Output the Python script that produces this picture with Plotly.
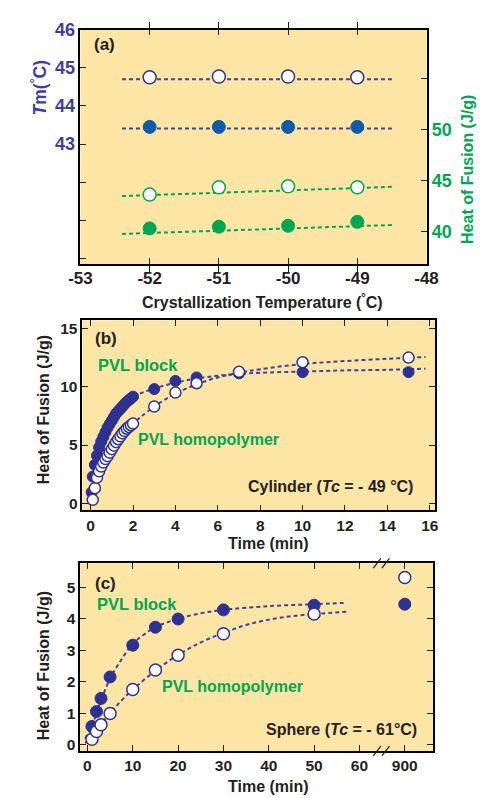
import plotly.graph_objects as go

W, H = 487, 798

# ---------------- Panel (a) data ----------------
a_tc = [-52, -51, -50, -49]
a_tm_homo = [44.75, 44.77, 44.77, 44.75]      # open blue (Tm)
a_tm_block = [43.45, 43.45, 43.45, 43.45]     # filled blue (Tm)
a_hf_homo = [43.64, 44.35, 44.45, 44.35]      # open green (heat of fusion)
a_hf_block = [40.32, 40.49, 40.58, 40.97]     # filled green (heat of fusion)
a_fit_x = [-52.4, -48.5]
a_fit_tm_homo = [44.70, 44.70]
a_fit_tm_block = [43.41, 43.41]
a_fit_hf_homo = [43.5, 44.4]
a_fit_hf_block = [39.78, 40.65]
a_x_ticks = [-53, -52, -51, -50, -49, -48]
a_x_text = ["-53", "-52", "-51", "-50", "-49", "-48"]
a_left_ticks = [43, 44, 45, 46]
a_left_minor = [40, 41, 42]
a_right_ticks = [40, 45, 50]
a_right_minor = [55]

# ---------------- Panel (b) data ----------------
b_t_block = [0.05, 0.1, 0.2, 0.3, 0.4, 0.5, 0.6, 0.7, 0.8, 0.9, 1.0, 1.1, 1.2, 1.3,
             1.4, 1.5, 1.6, 1.7, 1.8, 1.9, 2.0, 3, 4, 5, 7, 10, 15]
b_h_block = [0.95, 2.3, 3.3, 4.1, 4.8, 5.3, 5.7, 6.1, 6.5, 6.8, 7.1, 7.4, 7.7, 7.9,
             8.1, 8.3, 8.5, 8.7, 8.85, 9.0, 9.15, 9.8, 10.5, 10.8, 11.15, 11.25, 11.25]
b_t_homo = [0.1, 0.2, 0.3, 0.4, 0.5, 0.6, 0.7, 0.8, 0.9, 1.0, 1.1, 1.2, 1.3, 1.4,
            1.5, 1.6, 1.7, 1.8, 1.9, 2.0, 3, 4, 5, 7, 10, 15]
b_h_homo = [0.3, 1.3, 2.2, 2.75, 3.15, 3.5, 3.8, 4.05, 4.35, 4.65, 4.95, 5.25, 5.5, 5.75,
            6.0, 6.2, 6.4, 6.55, 6.7, 6.84, 8.3, 9.5, 10.3, 11.28, 12.1, 12.5]
b_fit_t_block = [2.0, 3, 4, 5, 6, 7, 8, 10, 12, 14, 15.8]
b_fit_h_block = [9.2, 9.85, 10.35, 10.7, 10.95, 11.1, 11.2, 11.3, 11.4, 11.45, 11.55]
b_fit_t_homo = [1.9, 3, 4, 5, 6, 7, 8, 10, 12, 14, 15.8]
b_fit_h_homo = [6.7, 8.3, 9.4, 10.2, 10.8, 11.2, 11.5, 11.95, 12.2, 12.4, 12.55]
b_x_ticks = [0, 2, 4, 6, 8, 10, 12, 14, 16]
b_y_ticks = [0, 5, 10, 15]

# ---------------- Panel (c) data ----------------
c_t = [1, 2, 3, 5, 10, 15, 20, 30, 50, 900]
c_h_block = [0.58, 1.05, 1.47, 2.15, 3.16, 3.73, 3.99, 4.28, 4.43, 4.46]
c_h_homo = [0.17, 0.42, 0.63, 0.99, 1.75, 2.37, 2.84, 3.52, 4.15, 5.31]
c_fit_t_block = [-0.5, 1, 2, 3, 5, 7.5, 10, 12.5, 15, 20, 25, 30, 40, 50, 56.5]
c_fit_h_block = [0.2, 0.6, 1.0, 1.4, 2.1, 2.7, 3.2, 3.5, 3.73, 4.0, 4.17, 4.28, 4.4, 4.46, 4.5]
c_fit_t_homo = [-0.5, 1, 2, 3, 5, 7.5, 10, 15, 20, 25, 30, 35, 40, 45, 50, 57.5]
c_fit_h_homo = [0.05, 0.22, 0.45, 0.65, 1.0, 1.4, 1.75, 2.35, 2.85, 3.25, 3.55, 3.8, 3.97, 4.08, 4.15, 4.22]
c_x_ticks = [0, 10, 20, 30, 40, 50, 60, 900]
c_y_ticks = [0, 1, 2, 3, 4, 5]
BREAK_POS = 70  # axis position where the 900 min value is drawn (broken axis)


def cx(t):
    return BREAK_POS if t == 900 else t


# ---------------- styles ----------------
BG = "#FDE5A6"
NAVY = "#2E3192"
BLUE_A = "#0E5BAA"
DASH_BLUE = "#3A43A6"
TM_BLUE = "#3A3F9E"
GREEN = "#00A651"
DARK = "#231F20"
FONT = "Liberation Sans"
DASH = "4px,3px"


def px(x):
    return x / W


def py(y):
    return 1 - y / H


fig = go.Figure()

# Panel (a)
for fx, fy, col, ax in [
    (a_fit_x, a_fit_tm_homo, DASH_BLUE, "y"),
    (a_fit_x, a_fit_tm_block, DASH_BLUE, "y"),
    (a_fit_x, a_fit_hf_homo, GREEN, "y2"),
    (a_fit_x, a_fit_hf_block, GREEN, "y2"),
]:
    fig.add_trace(go.Scatter(x=fx, y=fy, mode="lines", xaxis="x", yaxis=ax,
                             line=dict(color=col, width=2, dash=DASH), showlegend=False))

fig.add_trace(go.Scatter(x=a_tc, y=a_tm_homo, mode="markers", xaxis="x", yaxis="y",
                         marker=dict(size=13, color="white", line=dict(color=NAVY, width=1.5)),
                         showlegend=False))
fig.add_trace(go.Scatter(x=a_tc, y=a_tm_block, mode="markers", xaxis="x", yaxis="y",
                         marker=dict(size=13, color=BLUE_A, line=dict(color=BLUE_A, width=1)),
                         showlegend=False))
fig.add_trace(go.Scatter(x=a_tc, y=a_hf_homo, mode="markers", xaxis="x", yaxis="y2",
                         marker=dict(size=13, color="white", line=dict(color=GREEN, width=1.5)),
                         showlegend=False))
fig.add_trace(go.Scatter(x=a_tc, y=a_hf_block, mode="markers", xaxis="x", yaxis="y2",
                         marker=dict(size=13, color=GREEN, line=dict(color=GREEN, width=1)),
                         showlegend=False))

# Panel (b)
fig.add_trace(go.Scatter(x=b_fit_t_block, y=b_fit_h_block, mode="lines", xaxis="x2", yaxis="y3",
                         line=dict(color=DASH_BLUE, width=2, dash=DASH, shape="spline"), showlegend=False))
fig.add_trace(go.Scatter(x=b_fit_t_homo, y=b_fit_h_homo, mode="lines", xaxis="x2", yaxis="y3",
                         line=dict(color=DASH_BLUE, width=2, dash=DASH, shape="spline"), showlegend=False))
fig.add_trace(go.Scatter(x=b_t_block, y=b_h_block, mode="markers", xaxis="x2", yaxis="y3",
                         marker=dict(size=11, color=NAVY, line=dict(color=NAVY, width=1)),
                         showlegend=False))
fig.add_trace(go.Scatter(x=b_t_homo, y=b_h_homo, mode="markers", xaxis="x2", yaxis="y3",
                         marker=dict(size=11, color="white", line=dict(color=NAVY, width=1.5)),
                         showlegend=False))

# Panel (c)
fig.add_trace(go.Scatter(x=c_fit_t_block, y=c_fit_h_block, mode="lines", xaxis="x3", yaxis="y4",
                         line=dict(color=DASH_BLUE, width=2, dash=DASH, shape="spline"), showlegend=False))
fig.add_trace(go.Scatter(x=c_fit_t_homo, y=c_fit_h_homo, mode="lines", xaxis="x3", yaxis="y4",
                         line=dict(color=DASH_BLUE, width=2, dash=DASH, shape="spline"), showlegend=False))
fig.add_trace(go.Scatter(x=[cx(t) for t in c_t], y=c_h_block, mode="markers", xaxis="x3", yaxis="y4",
                         marker=dict(size=12, color=NAVY, line=dict(color=NAVY, width=1)),
                         showlegend=False))
fig.add_trace(go.Scatter(x=[cx(t) for t in c_t], y=c_h_homo, mode="markers", xaxis="x3", yaxis="y4",
                         marker=dict(size=12, color="white", line=dict(color=NAVY, width=1.5)),
                         showlegend=False))

axis_base = dict(showline=True, linecolor="black", linewidth=1.5, ticks="inside", ticklen=6,
                 tickwidth=1, tickcolor=DARK, showgrid=False, zeroline=False)
axis_common = dict(axis_base, mirror="allticks")

tick_font = dict(family=FONT, size=15.5, color=DARK, weight="bold")

fig.update_layout(
    width=W, height=H, margin=dict(l=0, r=0, t=0, b=0), autosize=False,
    paper_bgcolor="white", plot_bgcolor=BG,
    xaxis=dict(domain=[px(72), px(436)], anchor="y", range=[-53, -48], tickvals=a_x_ticks,
               ticktext=a_x_text, tickfont=dict(family=FONT, size=17, color=DARK, weight="bold"),
               ticklabelstandoff=-2, **axis_common),
    yaxis=dict(domain=[py(258), py(20)], anchor="x", range=[39.85, 46.0], tickvals=a_left_ticks,
               tickfont=dict(family=FONT, size=18, color=TM_BLUE, weight="bold"),
               minor=dict(tickvals=a_left_minor, ticks="inside", ticklen=6, tickwidth=1, tickcolor=DARK),
               **axis_base),
    yaxis2=dict(overlaying="y", side="right", anchor="x", range=[36.81, 59.84], tickvals=a_right_ticks,
                tickfont=dict(family=FONT, size=18, color=GREEN, weight="bold"),
                minor=dict(tickvals=a_right_minor, ticks="inside", ticklen=6, tickwidth=1, tickcolor=DARK),
                **axis_base),
    xaxis2=dict(domain=[px(74), px(445)], anchor="y3", range=[-0.39, 16.25], tickvals=b_x_ticks,
                tickfont=tick_font, **axis_common),
    yaxis3=dict(domain=[py(508), py(315)], anchor="x2", range=[-0.6, 15.7], tickvals=b_y_ticks,
                tickfont=tick_font, **axis_common),
    xaxis3=dict(domain=[px(71.7), px(442.7)], anchor="y4", range=[-1.6, 76.2],
                tickvals=[cx(t) for t in c_x_ticks], ticktext=[str(t) for t in c_x_ticks],
                tickfont=tick_font, **axis_common),
    yaxis4=dict(domain=[py(752.3), py(561.7)], anchor="x3", range=[-0.2, 5.76], tickvals=c_y_ticks,
                tickfont=tick_font, **axis_common),
)


def ann(text, x, y, size=15, color=DARK, angle=0, xanchor="center"):
    fig.add_annotation(text=text, x=px(x), y=py(y), xref="paper", yref="paper", showarrow=False,
                       textangle=angle, xanchor=xanchor, yanchor="middle",
                       font=dict(family=FONT, size=size, color=color, weight="bold"))


# Panel (a) texts
ann("(a)", 97, 35, size=17)
ann("<i>T</i>m(<sup>°</sup>C)", 28, 79, size=17.5, color=TM_BLUE, angle=-90)
ann("Heat of Fusion (J/g)", 479, 162, size=16, color=GREEN, angle=-90)
ann("Crystallization Temperature (<sup>°</sup>C)", 263, 295, size=16)

# Panel (b) texts
ann("(b)", 99, 334, size=17)
ann("PVL block", 133, 360, size=16.5, color=GREEN)
ann("PVL homopolymer", 207, 436, size=16, color=GREEN)
ann("Cylinder (<i>Tc</i> = - 49 °C)", 424, 484, size=16, xanchor="right")
ann("Heat of Fusion (J/g)", 34, 406, size=16, angle=-90)
ann("Time (min)", 270, 542, size=16)

# Panel (c) texts
ann("(c)", 98, 582, size=17)
ann("PVL block", 132, 603, size=16.5, color=GREEN)
ann("PVL homopolymer", 232, 687, size=16, color=GREEN)
ann("Sphere (<i>Tc</i> = - 61°C)", 428, 730, size=16, xanchor="right")
ann("Heat of Fusion (J/g)", 34, 666, size=16, angle=-90)
ann("Time (min)", 270, 788, size=16)

# Axis break marks on panel (c)
for yb in (561.7, 752.3):
    for xb in (384, 393):
        fig.add_shape(type="line", xref="paper", yref="paper",
                      x0=px(xb - 4), y0=py(yb + 5), x1=px(xb + 4), y1=py(yb - 5),
                      line=dict(color=DARK, width=1.2))

fig.write_html("out.html")
